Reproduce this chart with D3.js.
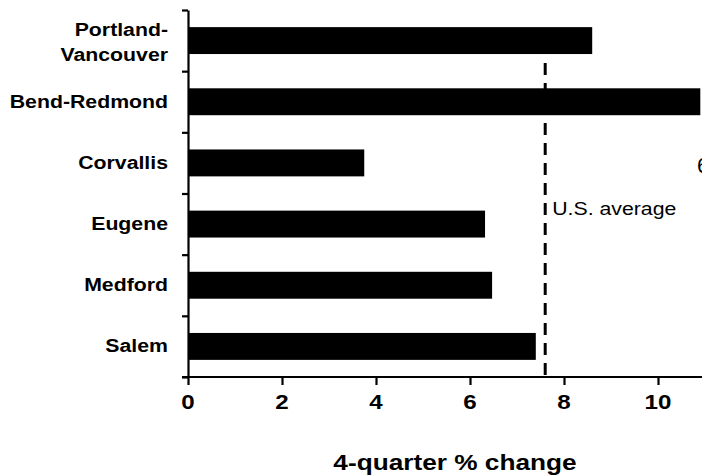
<!DOCTYPE html>
<html>
<head>
<meta charset="utf-8">
<script src="https://cdn.jsdelivr.net/npm/d3@7"></script>
<style>
  body { margin: 0; background: #fff; }
  svg { display: block; font-family: "Liberation Sans", Arial, sans-serif; }
</style>
</head>
<body>
<script>
const categories = ['Portland-Vancouver', 'Bend-Redmond', 'Corvallis', 'Eugene', 'Medford', 'Salem']
const labelLines = [['Portland-', 'Vancouver'], ['Bend-Redmond'], ['Corvallis'], ['Eugene'], ['Medford'], ['Salem']]
const changes = [8.6, 10.9, 3.75, 6.32, 6.47, 7.4]
const usAverage = 7.6
const xTicks = [0, 2, 4, 6, 8, 10]

const width = 702
const height = 475
const plotLeft = 188, plotTop = 10, plotBottom = 377
const stretch = 1.15

const svg = d3.select('body').append('svg').attr('width', width).attr('height', height)

const x = d3.scaleLinear().domain([0, 11.2]).range([plotLeft, plotLeft + 47 * 11.2])
const y = d3.scaleBand().domain(categories).range([plotTop, plotBottom]).paddingInner(0.56).paddingOuter(0.28)
const yIdx = d3.scaleLinear().domain([0, categories.length]).range([plotTop, plotBottom])

// bars
svg.selectAll('rect.bar').data(categories).enter().append('rect')
  .attr('class', 'bar')
  .attr('x', x(0))
  .attr('y', d => y(d))
  .attr('width', (d, i) => x(changes[i]) - x(0))
  .attr('height', y.bandwidth())
  .attr('fill', '#000')

// U.S. average dashed line
svg.append('line')
  .attr('x1', x(usAverage)).attr('x2', x(usAverage))
  .attr('y1', 63).attr('y2', plotBottom)
  .attr('stroke', '#000').attr('stroke-width', 3)
  .attr('stroke-dasharray', '12,8')

svg.append('text')
  .attr('transform', `translate(${x(usAverage) + 7},215) scale(${stretch},1)`)
  .style('font-size', '18.5px')
  .text('U.S. average')

// y axis with ticks at band boundaries
const yAxis = d3.axisLeft(yIdx).tickValues(d3.range(categories.length + 1)).tickSize(6).tickSizeOuter(0).tickFormat('')
const gy = svg.append('g').attr('transform', `translate(${plotLeft},0)`).call(yAxis)
gy.selectAll('path, line').attr('stroke', '#000').attr('stroke-width', 2.2)

// x axis
const xAxis = d3.axisBottom(x).tickValues(xTicks).tickSize(8).tickSizeOuter(0).tickFormat('')
const gx = svg.append('g').attr('transform', `translate(0,${plotBottom})`).call(xAxis)
gx.selectAll('path, line').attr('stroke', '#000').attr('stroke-width', 2.2)
gx.select('path.domain').attr('d', `M${plotLeft - 6},0H${width + 20}`)

svg.selectAll('text.xtick').data(xTicks).enter().append('text')
  .attr('class', 'xtick')
  .attr('transform', d => `translate(${x(d)},409) scale(${stretch},1)`)
  .attr('text-anchor', 'middle')
  .style('font-size', '21px').style('font-weight', 'bold')
  .text(d => d)

// category labels
labelLines.forEach((lines, i) => {
  const c = y(categories[i]) + y.bandwidth() / 2
  const first = lines.length === 1 ? c + 6 : c - 5
  lines.forEach((t, j) => {
    svg.append('text')
      .attr('transform', `translate(168,${first + j * 25}) scale(${stretch},1)`)
      .attr('text-anchor', 'end')
      .style('font-size', '18.5px').style('font-weight', 'bold')
      .text(t)
  })
})

// x axis title
svg.append('text')
  .attr('transform', `translate(455,470) scale(1.22,1)`)
  .attr('text-anchor', 'middle')
  .style('font-size', '21.5px').style('font-weight', 'bold')
  .text('4-quarter % change')

// clipped fragment at the right edge
svg.append('text')
  .attr('x', 697).attr('y', 173)
  .style('font-size', '22px')
  .text('6')
</script>
</body>
</html>
